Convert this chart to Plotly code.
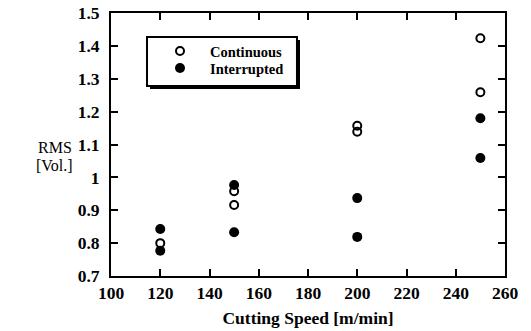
import plotly.graph_objects as go

# Data
cont_speed = [120, 150, 150, 200, 200, 250, 250]
cont_rms = [0.80, 0.958, 0.916, 1.157, 1.139, 1.423, 1.259]
intr_speed = [120, 120, 150, 150, 200, 200, 250, 250]
intr_rms = [0.843, 0.777, 0.977, 0.833, 0.937, 0.819, 1.180, 1.059]

x_ticks = [100, 120, 140, 160, 180, 200, 220, 240, 260]
y_ticks = [0.7, 0.8, 0.9, 1.0, 1.1, 1.2, 1.3, 1.4, 1.5]
y_tick_text = ["0.7", "0.8", "0.9", "1", "1.1", "1.2", "1.3", "1.4", "1.5"]

FONT = "Liberation Serif"

fig = go.Figure()
fig.add_trace(go.Scatter(
    x=cont_speed, y=cont_rms, mode="markers", name="Continuous", legend="legend",
    marker=dict(symbol="circle-open", size=8, color="black", line=dict(width=2, color="black")),
))
fig.add_trace(go.Scatter(
    x=intr_speed, y=intr_rms, mode="markers", name="Interrupted", legend="legend2",
    marker=dict(symbol="circle", size=10, color="black"),
))

axis_common = dict(
    showline=True, linecolor="black", linewidth=2, mirror="ticks",
    ticks="inside", ticklen=7, tickwidth=2, tickcolor="black",
    showgrid=False, zeroline=False, automargin=False,
    tickfont=dict(family=FONT, size=17.5, color="black", weight="bold"),
)

fig.update_xaxes(range=[100, 260], tickvals=x_ticks, **axis_common,
                 title=dict(text="Cutting Speed [m/min]",
                            font=dict(family=FONT, size=17.5, color="black", weight="bold"),
                            standoff=10))
fig.update_yaxes(range=[0.7, 1.5], tickvals=y_ticks, ticktext=y_tick_text,
                 ticklabelstandoff=6, **axis_common)

# legend frame with drop shadow
fig.add_shape(type="rect", xref="paper", yref="paper",
              x0=0.099, x1=0.4797, y0=0.711, y1=0.8973,
              line=dict(width=0), fillcolor="black", layer="above")
fig.add_shape(type="rect", xref="paper", yref="paper",
              x0=0.0914, x1=0.472, y0=0.7224, y1=0.9087,
              line=dict(width=2, color="black"), fillcolor="white", layer="above")

fig.add_annotation(text="RMS", xref="paper", yref="paper",
                   x=-0.190, y=0.487, showarrow=False,
                   font=dict(family=FONT, size=16, color="black"))
fig.add_annotation(text="[Vol.]", xref="paper", yref="paper",
                   x=-0.195, y=0.422, showarrow=False,
                   font=dict(family=FONT, size=16, color="black"))

legend_style = dict(xanchor="left", yanchor="top", bgcolor="rgba(0,0,0,0)", borderwidth=0,
                    font=dict(family=FONT, size=14.5, color="black", weight="bold"),
                    itemwidth=50)

fig.update_layout(
    width=531, height=331,
    margin=dict(l=111, r=26, t=13, b=55),
    paper_bgcolor="white", plot_bgcolor="white",
    showlegend=True,
    legend=dict(x=0.099, y=0.9163, **legend_style),
    legend2=dict(x=0.099, y=0.8517, **legend_style),
)

fig.write_html("out.html")
